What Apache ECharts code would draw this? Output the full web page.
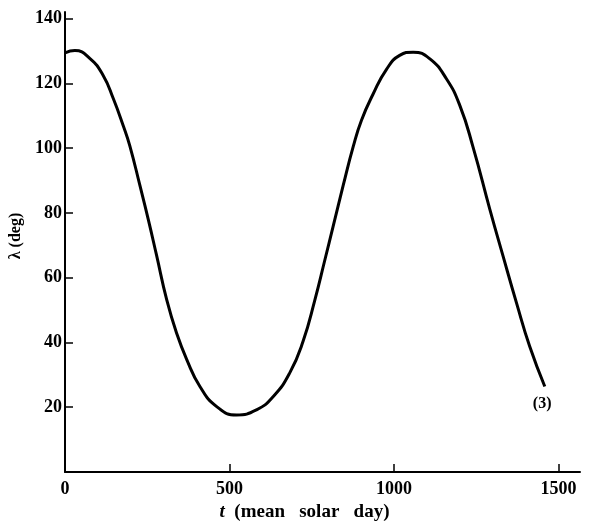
<!DOCTYPE html>
<html>
<head>
<meta charset="utf-8">
<script src="https://cdn.jsdelivr.net/npm/echarts@6/dist/echarts.min.js"></script>
<style>html,body{margin:0;padding:0;background:#fff}#c{width:590px;height:523px}</style>
</head>
<body>
<div id="c"></div>
<script>
var tDays = [0, 30, 76, 116, 147, 177, 197, 228, 253, 278, 309, 339, 370, 410, 461, 521, 582, 633, 683, 724, 759, 790, 815, 845, 876, 901, 936, 977, 1017, 1058, 1108, 1159, 1200, 1240, 1291, 1331, 1372, 1412, 1458];
var lambdaDeg = [129.4, 130.1, 127.6, 122.4, 115.2, 106.9, 100.7, 88.3, 78, 67, 53.2, 42.9, 34.7, 26.4, 20.2, 17.6, 19.2, 23.3, 30.6, 40.5, 53, 65.6, 75.9, 88.3, 100.5, 108.6, 116.6, 124.3, 128.6, 129.6, 127.6, 121.4, 113.1, 100.3, 81.1, 66.7, 52.2, 38.8, 26.4];
var xTicks = [0, 500, 1000, 1500];
var yTicks = [20, 40, 60, 80, 100, 120, 140];
var curveLabel = '(3)';
var curveLabelAt = [1450, 21];

var pts = tDays.map(function (t, i) { return [t, lambdaDeg[i]]; });
var font = '"Liberation Serif", "DejaVu Serif", serif';
var chart = echarts.init(document.getElementById('c'), null, {renderer: 'canvas'});
chart.setOption({
  animation: false,
  grid: {left: 65, right: 10, top: 12, bottom: 51, containLabel: false, outerBoundsMode: 'none'},
  xAxis: {
    type: 'value', min: 0, max: 1565,
    name: '{i|t}  (mean   solar   day)', nameLocation: 'middle', nameGap: 26,
    nameTextStyle: {fontFamily: font, fontWeight: 'bold', fontSize: 19, color: '#000',
      padding: [0, 36, 0, 0],
      rich: {i: {fontStyle: 'italic', fontFamily: font, fontWeight: 'bold', fontSize: 19, color: '#000'}}},
    axisLine: {lineStyle: {color: '#000', width: 2}},
    axisTick: {inside: true, length: 8, customValues: xTicks, lineStyle: {color: '#000', width: 1.5}},
    axisLabel: {customValues: xTicks, formatter: function (v) { return String(v); },
      color: '#000', fontFamily: font, fontWeight: 'bold', fontSize: 18, margin: 8},
    splitLine: {show: false}
  },
  yAxis: {
    type: 'value', min: 0, max: 142,
    name: 'λ (deg)', nameLocation: 'middle', nameGap: 40, nameRotate: 90,
    nameTextStyle: {fontFamily: font, fontWeight: 'bold', fontSize: 16, color: '#000', padding: [0, 0, 0, 12]},
    axisLine: {lineStyle: {color: '#000', width: 2}},
    axisTick: {inside: true, length: 8, customValues: yTicks, lineStyle: {color: '#000', width: 1.5}},
    axisLabel: {customValues: yTicks, formatter: function (v) { return String(v); },
      color: '#000', fontFamily: font, fontWeight: 'bold', fontSize: 18, margin: 3},
    splitLine: {show: false}
  },
  series: [{
    type: 'line', data: pts, smooth: 0.5, showSymbol: false,
    lineStyle: {color: '#000', width: 3},
    markPoint: {
      symbol: 'circle', symbolSize: 0,
      data: [{coord: curveLabelAt, value: curveLabel}],
      label: {show: true, position: 'inside', formatter: curveLabel, color: '#000',
        fontFamily: font, fontWeight: 'bold', fontSize: 16}
    }
  }]
});
</script>
</body>
</html>
